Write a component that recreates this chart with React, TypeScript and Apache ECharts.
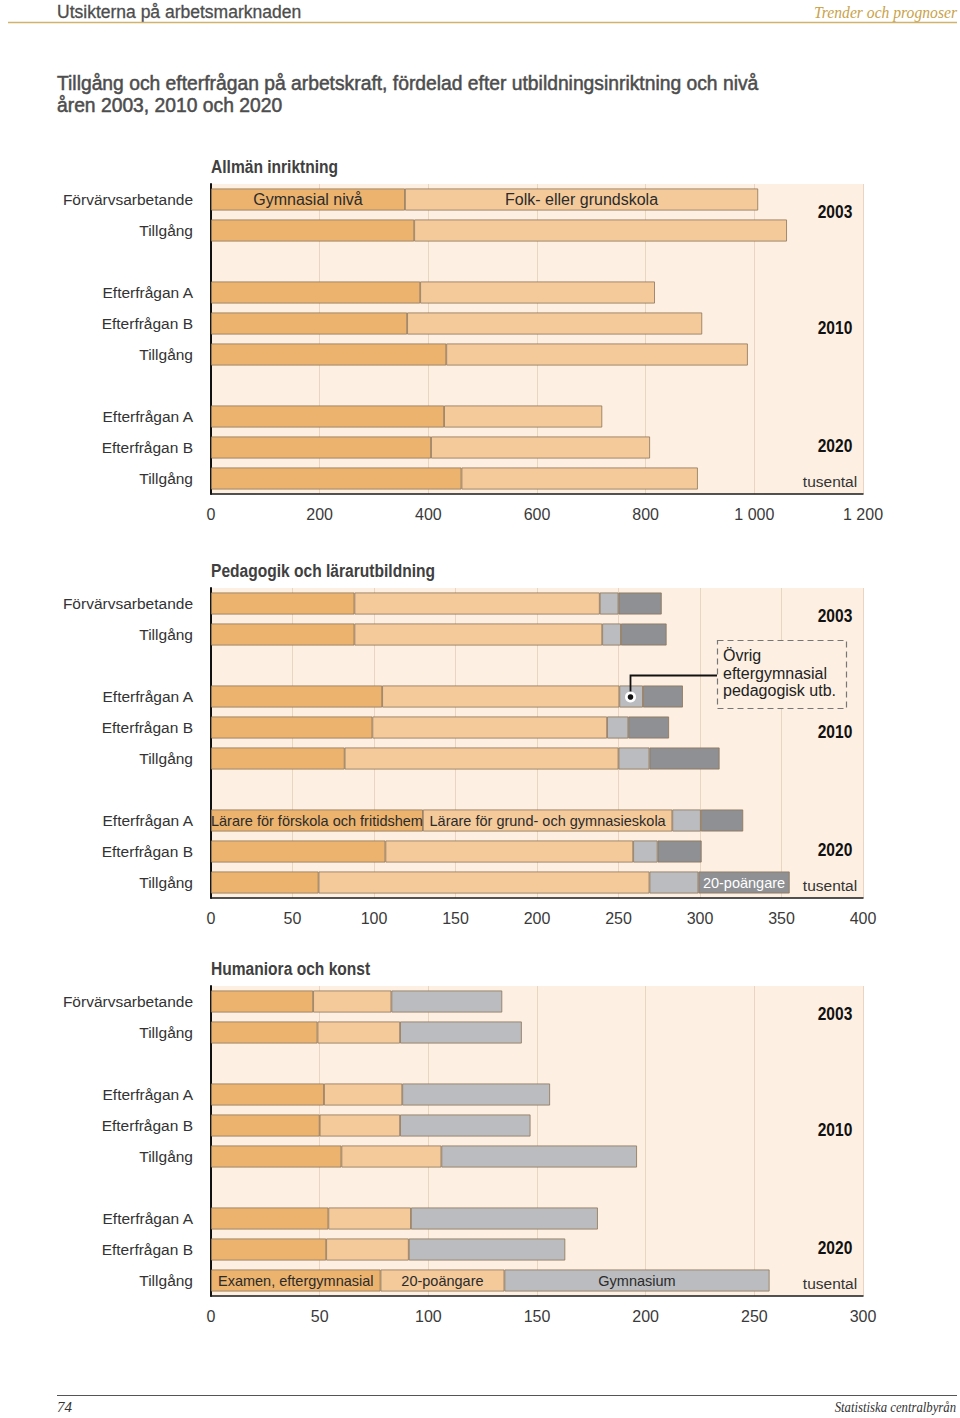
import React, { useEffect, useRef } from "react";
import * as echarts from "echarts";

// ---------- data ----------
const rowKeys = ["2003-F", "2003-T", "gap1", "2010-A", "2010-B", "2010-T", "gap2", "2020-A", "2020-B", "2020-T"];
const rowLabels = ["Förvärvsarbetande", "Tillgång", "", "Efterfrågan A", "Efterfrågan B", "Tillgång", "", "Efterfrågan A", "Efterfrågan B", "Tillgång"];
const yearLabels = ["2003", "2010", "2020"];

// Allmän inriktning (tusental)
const allmanNames = ["Gymnasial nivå", "Folk- eller grundskola"];
const allmanGymnasial = [357, 374, null, 385, 361, 433, null, 429, 405, 461];
const allmanFolk = [650, 686, null, 432, 543, 555, null, 291, 403, 435];
const allmanTicks = [0, 200, 400, 600, 800, 1000, 1200];

// Pedagogik och lärarutbildning (tusental)
const pedNames = ["Lärare för förskola och fritidshem", "Lärare för grund- och gymnasieskola", "Övrig eftergymnasial pedagogisk utb.", "20-poängare"];
const pedForskola = [88, 88, null, 105, 99, 82, null, 130, 107, 66];
const pedGrund = [150.5, 152, null, 145.5, 144, 168, null, 153, 152, 203];
const pedOvrig = [11.5, 11.5, null, 14.5, 13, 19, null, 17.5, 15, 30];
const pedPoang = [26.5, 28, null, 24.5, 25, 43, null, 26, 27, 56];
const pedTicks = [0, 50, 100, 150, 200, 250, 300, 350, 400];

// Humaniora och konst (tusental)
const humNames = ["Examen, eftergymnasial", "20-poängare", "Gymnasium"];
const humExamen = [47, 49, null, 52, 50, 60, null, 54, 53, 78];
const humPoang = [36, 38, null, 36, 37, 46, null, 38, 38, 57];
const humGymnasium = [51, 56, null, 68, 60, 90, null, 86, 72, 122];
const humTicks = [0, 50, 100, 150, 200, 250, 300];

// ---------- styles ----------
const SANS = '"Liberation Sans", Arial, Helvetica, sans-serif';
const SERIF = '"Liberation Serif", "Times New Roman", serif';
const C_DARK = "#ecb36e";
const C_LIGHT = "#f4ca9b";
const C_GRAY1 = "#babcbf";
const C_GRAY2 = "#8e9094";
const PANEL = "#fdf0e2";
const GRIDLINE = "#e8d6c1";
const BORDER = "#8d7358";

const GRID_LEFT = 211;
const GRID_W = 652;
const GRID_H = 310;
const gridTops = [184, 588, 986];

function fmtThousands(v: number) {
  const s = String(v);
  return s.length > 3 ? s.slice(0, s.length - 3) + " " + s.slice(s.length - 3) : s;
}

type Lbl = { row: number; text: string; color?: string; size?: number };

function makeSeries(gridIdx: number, name: string, values: (number | null)[], color: string, labels: Lbl[]) {
  return {
    type: "bar",
    name,
    xAxisIndex: gridIdx,
    yAxisIndex: gridIdx,
    stack: "s" + gridIdx,
    barWidth: 22,
    itemStyle: { color, borderColor: BORDER, borderWidth: 0.8 },
    data: values.map((v, i) => {
      if (v === null) return "-";
      const l = labels.find((x) => x.row === i);
      if (!l) return v;
      return {
        value: v,
        label: {
          show: true,
          position: "inside",
          formatter: l.text,
          color: l.color || "#2b2b2b",
          fontSize: l.size || 14.5,
          fontFamily: SANS,
        },
      };
    }),
  };
}

export default function App() {
  const ref = useRef<HTMLDivElement>(null);

  useEffect(() => {
    if (!ref.current) return;
    const chart = echarts.init(ref.current, undefined, { renderer: "svg" });

    const maxes = [allmanTicks[allmanTicks.length - 1], pedTicks[pedTicks.length - 1], humTicks[humTicks.length - 1]];
    const intervals = [allmanTicks[1] - allmanTicks[0], pedTicks[1] - pedTicks[0], humTicks[1] - humTicks[0]];

    const grids = gridTops.map((top) => ({
      left: GRID_LEFT,
      top,
      width: GRID_W,
      height: GRID_H,
      show: true,
      backgroundColor: PANEL,
      borderWidth: 0,
    }));

    const xAxes = gridTops.map((_, i) => ({
      type: "value",
      gridIndex: i,
      min: 0,
      max: maxes[i],
      interval: intervals[i],
      axisLine: { show: true, onZero: false, lineStyle: { color: "#1a1a1a", width: 1.5 } },
      axisTick: { show: false },
      splitLine: { show: true, lineStyle: { color: GRIDLINE, width: 1 } },
      axisLabel: {
        margin: 12,
        fontSize: 16,
        color: "#3a3a3a",
        fontFamily: SANS,
        formatter: (v: number) => fmtThousands(v),
      },
    }));

    const yAxes = gridTops.map((_, i) => ({
      type: "category",
      gridIndex: i,
      inverse: true,
      data: rowKeys,
      axisLine: { show: true, lineStyle: { color: "#111", width: 2 } },
      axisTick: { show: false },
      splitLine: { show: false },
      axisLabel: {
        margin: 18,
        fontSize: 15.5,
        color: "#333",
        fontFamily: SANS,
        formatter: (_v: string, idx: number) => rowLabels[idx],
      },
    }));

    const series = [
      makeSeries(0, allmanNames[0], allmanGymnasial, C_DARK, [{ row: 0, text: allmanNames[0], size: 16 }]),
      makeSeries(0, allmanNames[1], allmanFolk, C_LIGHT, [{ row: 0, text: allmanNames[1], size: 16 }]),
      makeSeries(1, pedNames[0], pedForskola, C_DARK, [{ row: 7, text: pedNames[0] }]),
      makeSeries(1, pedNames[1], pedGrund, C_LIGHT, [{ row: 7, text: pedNames[1] }]),
      makeSeries(1, pedNames[2], pedOvrig, C_GRAY1, []),
      makeSeries(1, pedNames[3], pedPoang, C_GRAY2, [{ row: 9, text: pedNames[3], color: "#ffffff" }]),
      makeSeries(2, humNames[0], humExamen, C_DARK, [{ row: 9, text: humNames[0] }]),
      makeSeries(2, humNames[1], humPoang, C_LIGHT, [{ row: 9, text: humNames[1] }]),
      makeSeries(2, humNames[2], humGymnasium, C_GRAY1, [{ row: 9, text: humNames[2] }]),
    ];

    const chartTitles = ["Allmän inriktning", "Pedagogik och lärarutbildning", "Humaniora och konst"];
    const graphics: any[] = [];

    // header
    graphics.push(
      {
        type: "text",
        x: 57,
        y: 12,
        style: { text: "Utsikterna på arbetsmarknaden", fontSize: 17.5, fontFamily: SANS, fill: "#4d4d4d", stroke: "#4d4d4d", lineWidth: 0.3, verticalAlign: "middle" },
      },
      {
        type: "text",
        x: 957,
        y: 12,
        scaleX: 0.92,
        style: { text: "Trender och prognoser", fontSize: 17, fontStyle: "italic", fontFamily: SERIF, fill: "#c9a24a", align: "right", verticalAlign: "middle" },
      },
      { type: "line", shape: { x1: 8, y1: 22.5, x2: 957, y2: 22.5 }, style: { stroke: "#d2b36c", lineWidth: 1.5 } },
      {
        type: "text",
        x: 57,
        y: 72,
        style: {
          text: "Tillgång och efterfrågan på arbetskraft, fördelad efter utbildningsinriktning och nivå\nåren 2003, 2010 och 2020",
          fontSize: 19.3,
          lineHeight: 22,
          fontFamily: SANS,
          fill: "#4d4d4d",
          stroke: "#4d4d4d",
          lineWidth: 0.5,
        },
      }
    );

    // per chart labels
    const yearOffsets = [211, 327, 445];
    gridTops.forEach((top, i) => {
      const d = top - gridTops[0];
      graphics.push({
        type: "text",
        x: GRID_LEFT,
        y: top - 18,
        scaleX: 0.82,
        style: { text: chartTitles[i], fontSize: 19, fontWeight: "bold", fontFamily: SANS, fill: "#404040", verticalAlign: "middle" },
      });
      yearLabels.forEach((yl, k) => {
        graphics.push({
          type: "text",
          x: 835,
          y: yearOffsets[k] + d,
          scaleX: 0.82,
          z: 50,
          style: { text: yl, fontSize: 19, fontWeight: "bold", fontFamily: SANS, fill: "#111", align: "center", verticalAlign: "middle" },
        });
      });
      graphics.push({
        type: "text",
        x: 830,
        y: 481 + d,
        z: 50,
        style: { text: "tusental", fontSize: 15.5, fontFamily: SANS, fill: "#333", align: "center", verticalAlign: "middle" },
      });
    });

    // annotation in chart 2
    graphics.push(
      {
        type: "rect",
        z: 50,
        shape: { x: 717.5, y: 640.5, width: 129, height: 68 },
        style: { fill: PANEL, stroke: "#777", lineWidth: 1.2, lineDash: [6, 4] },
      },
      {
        type: "text",
        x: 723,
        y: 647,
        z: 51,
        style: { text: "Övrig\neftergymnasial\npedagogisk utb.", fontSize: 16, lineHeight: 17.5, fontFamily: SANS, fill: "#222" },
      },
      {
        type: "polyline",
        z: 51,
        shape: { points: [[717, 675.5], [630.5, 675.5], [630.5, 697]] },
        style: { fill: "none", stroke: "#111", lineWidth: 1.8 },
      },
      {
        type: "circle",
        z: 52,
        shape: { cx: 630.5, cy: 697, r: 5.5 },
        style: { fill: "#ffffff", stroke: "none" },
      },
      {
        type: "circle",
        z: 53,
        shape: { cx: 630.5, cy: 697, r: 2.8 },
        style: { fill: "#111", stroke: "none" },
      }
    );

    // footer
    graphics.push(
      { type: "line", shape: { x1: 57, y1: 1395.5, x2: 957, y2: 1395.5 }, style: { stroke: "#555", lineWidth: 1.2 } },
      {
        type: "text",
        x: 57,
        y: 1407,
        style: { text: "74", fontSize: 15, fontStyle: "italic", fontFamily: SERIF, fill: "#333", verticalAlign: "middle" },
      },
      {
        type: "text",
        x: 956,
        y: 1407,
        scaleX: 0.91,
        style: { text: "Statistiska centralbyrån", fontSize: 14, fontStyle: "italic", fontFamily: SERIF, fill: "#333", align: "right", verticalAlign: "middle" },
      }
    );

    chart.setOption({
      animation: false,
      backgroundColor: "#ffffff",
      grid: grids,
      xAxis: xAxes,
      yAxis: yAxes,
      series,
      graphic: graphics,
    });

    return () => chart.dispose();
  }, []);

  return <div ref={ref} style={{ position: "absolute", left: 0, top: 0, width: 960, height: 1418 }} />;
}
